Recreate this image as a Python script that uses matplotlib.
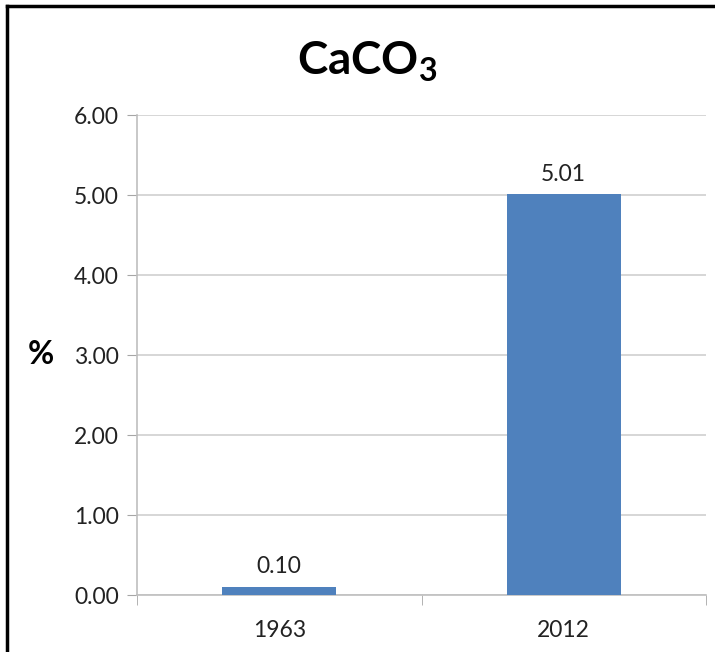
import matplotlib.pyplot as plt
from matplotlib.lines import Line2D

years = ['1963', '2012']
caco3 = [0.10, 5.01]
yticks = [0, 1, 2, 3, 4, 5, 6]

W, H = 715, 652
fig = plt.figure(figsize=(W / 100, H / 100), dpi=100)
plt.rcParams['font.family'] = ['Lato', 'DejaVu Sans']

# plot area in pixel terms
left, right, top, bottom = 137, 706, 115, 595
ax = fig.add_axes([left / W, 1 - bottom / H, (right - left) / W, (bottom - top) / H])

x = range(len(years))
bars = ax.bar(x, caco3, width=0.4, color='#4F81BD', zorder=3)
for b, v in zip(bars, caco3):
    ax.text(b.get_x() + b.get_width() / 2, v + 0.12, f'{v:.2f}',
            ha='center', va='bottom', fontsize=16.5, color='#222222')

ax.set_xlim(-0.5, len(years) - 0.5)
ax.set_ylim(0, 6)
ax.set_yticks(yticks)
ax.set_yticklabels([f'{t:.2f}' for t in yticks], fontsize=16.5, color='#222222')
ax.set_xticks(list(x))
ax.set_xticklabels(years, fontsize=16.5, color='#222222')
ax.set_xticks([-0.5, 0.5, 1.5], minor=True)
ax.tick_params(axis='x', which='major', length=0, pad=18)
ax.tick_params(axis='x', which='minor', length=7, color='#A6A6A6', direction='out')
ax.tick_params(axis='y', length=7, color='#A6A6A6', pad=6)

ax.grid(axis='y', color='#D0D0D0', linewidth=1.2, zorder=0)
for s in ['top', 'right']:
    ax.spines[s].set_visible(False)
for s in ['left', 'bottom']:
    ax.spines[s].set_color('#BFBFBF')
    ax.spines[s].set_linewidth(1.2)

ax.set_ylabel('%', fontsize=23, fontweight='bold', rotation=0, labelpad=24, va='center')

fig.text(367 / W, 1 - 62 / H, r'CaCO$_\mathregular{3}$', ha='center', va='center',
         fontsize=33, fontweight='bold')

# outer frame (top and left edges)
fig.add_artist(Line2D([7 / W, 1], [1 - 6 / H, 1 - 6 / H], transform=fig.transFigure,
                      color='black', linewidth=2.5))
fig.add_artist(Line2D([7 / W, 7 / W], [0, 1 - 6 / H], transform=fig.transFigure,
                      color='black', linewidth=2.5))

fig.savefig('out.png', dpi=100)
